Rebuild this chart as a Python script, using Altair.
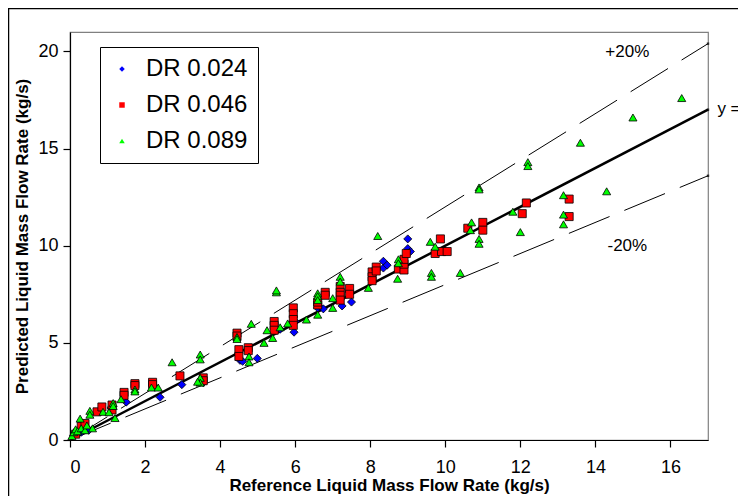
import altair as alt
import pandas as pd

# DR 0.024 (blue diamonds)
b_x = [0.1, 0.15, 0.2, 0.3, 0.5, 1.1, 1.5, 2.4, 2.98, 3.55, 3.5, 4.53, 4.6, 4.99, 5.6, 5.97, 6.0,
       6.6, 6.75, 7.25, 7.5, 8.35, 8.35, 8.45, 9.0, 9.0, 9.07]
b_y = [0.25, 0.3, 0.35, 0.4, 0.5, 1.65, 1.95, 2.2, 2.85, 2.95, 3.05, 4.1, 4.05, 4.2, 5.7, 5.55, 6.1,
       6.8, 6.75, 6.9, 7.1, 9.2, 8.85, 9.0, 10.35, 9.85, 9.7]

# DR 0.046 (red squares)
r_x = [0.15, 0.3, 0.4, 0.72, 0.85, 1.12, 1.12, 1.44, 1.44, 1.73, 1.73, 2.2, 2.2, 2.93, 3.55, 3.55,
       4.45, 4.45, 4.5, 4.5, 4.75, 4.75, 5.44, 5.44, 5.44, 5.95, 5.95, 5.95, 5.95, 6.6, 6.6, 6.8, 6.8,
       7.2, 7.2, 7.2, 7.2, 7.45, 7.45, 8.05, 8.05, 8.05, 8.16, 8.16, 8.75, 8.9, 8.9, 8.9, 8.96, 9.73,
       9.9, 10.05, 9.87, 10.6, 11.0, 11.0, 12.05, 12.16, 13.3, 13.3]
r_y = [0.3, 0.7, 0.85, 1.45, 1.7, 1.55, 1.8, 2.45, 2.3, 2.9, 2.8, 2.97, 2.85, 3.3, 3.2, 3.05,
       5.5, 5.35, 4.65, 4.3, 4.75, 4.6, 6.1, 5.9, 5.65, 6.8, 6.5, 6.2, 5.9, 6.95, 7.1, 7.6, 7.45,
       7.9, 7.6, 7.45, 7.2, 7.8, 7.5, 8.65, 8.4, 8.2, 8.9, 8.7, 8.8, 8.75, 9.05, 9.3, 9.6, 9.6,
       9.7, 9.7, 10.35, 10.9, 11.2, 10.8, 11.65, 12.2, 12.4, 11.5]

# DR 0.089 (green triangles)
g_x = [0.05, 0.1, 0.15, 0.2, 0.27, 0.3, 0.4, 0.45, 0.53, 0.53, 0.6, 0.88, 1.04, 1.15, 1.15, 1.2,
       1.36, 1.73, 1.73, 2.17, 2.35, 2.72, 3.47, 3.47, 3.47, 3.47, 3.4, 4.45, 4.45, 4.77, 4.77, 4.83,
       5.17, 5.25, 5.4, 5.5, 5.5, 5.6, 5.8, 6.3, 6.6, 6.6, 6.6, 6.6, 7.0, 7.0, 7.2, 7.2, 7.95, 8.2,
       8.73, 8.75, 8.75, 9.6, 9.63, 9.63, 9.73, 10.4, 10.67, 10.7, 10.9, 10.9, 10.9, 10.9, 11.8, 12.0,
       12.2, 12.2, 13.15, 13.15, 13.15, 13.6, 14.3, 15.0, 16.3]
g_y = [0.2, 0.4, 0.55, 0.45, 1.1, 0.6, 0.5, 0.75, 1.5, 1.3, 0.6, 1.45, 1.43, 1.9, 1.75, 1.13,
       2.1, 2.6, 2.5, 2.7, 2.7, 4.0, 4.4, 4.15, 3.2, 2.95, 3.0, 5.3, 5.2, 4.3, 4.0, 5.98,
       5.0, 5.65, 5.25, 7.6, 7.7, 5.8, 6.0, 6.2, 7.55, 7.4, 7.2, 6.45, 7.3, 6.8, 8.4, 8.15, 7.83, 10.5,
       8.3, 9.3, 9.1, 10.2, 8.6, 8.4, 9.95, 8.6, 10.8, 11.2, 13.0, 12.9, 10.35, 10.1, 11.75, 10.7,
       14.3, 14.1, 12.6, 11.6, 11.1, 15.3, 12.8, 16.6, 17.6]

series_names = ["DR 0.024", "DR 0.046", "DR 0.089"]
series_colors = ["#0000FF", "#FF0000", "#00FF00"]
series_shapes = ["diamond", "square", "triangle-up"]

# reference lines
line_x = [0, 17]
line_names = ["y = x", "+20%", "-20%"]
line_factors = [1.0, 1.2, 0.8]

# annotation labels
lab_text = ["+20%", "-20%", "y = x"]
lab_x = [14.85, 14.85, 17.25]
lab_y = [19.95, 10.0, 17.05]

rows = []
for name, xs_, ys_ in zip(series_names, [b_x, r_x, g_x], [b_y, r_y, g_y]):
    for xv, yv in zip(xs_, ys_):
        rows.append({"x": xv, "y": yv, "series": name})
df = pd.DataFrame(rows)

lrows = []
for name, f in zip(line_names, line_factors):
    for xv in line_x:
        lrows.append({"x": xv, "y": xv * f, "line": name})
dfl = pd.DataFrame(lrows)

dflab = pd.DataFrame({"x": lab_x, "y": lab_y, "t": lab_text})

FONT = "Liberation Sans"

xs = alt.Scale(domain=[0, 17], nice=False, zero=False)
ys = alt.Scale(domain=[0, 21], nice=False, zero=False)

xax = alt.Axis(values=[0, 2, 4, 6, 8, 10, 12, 14, 16], title="Reference Liquid Mass Flow Rate (kg/s)",
               grid=False, tickSize=7, labelPadding=11, titlePadding=1)
yax = alt.Axis(values=[0, 5, 10, 15, 20], title="Predicted Liquid Mass Flow Rate (kg/s)",
               grid=False, tickSize=7, labelPadding=5, titlePadding=6)

frame = alt.Chart(pd.DataFrame({"a": [0]})).mark_rect(
    fill=None, stroke="black", strokeWidth=1.5
).encode(x=alt.value(-61.5), x2=alt.value(720), y=alt.value(-23.5), y2=alt.value(520))

solid = alt.Chart(dfl[dfl["line"] == "y = x"]).mark_line(color="black", strokeWidth=2.5).encode(
    x=alt.X("x:Q", scale=xs, axis=xax), y=alt.Y("y:Q", scale=ys, axis=yax), detail="line:N"
)
dashed = alt.Chart(dfl[dfl["line"] != "y = x"]).mark_line(
    color="black", strokeWidth=1, strokeDash=[44, 16]
).encode(x=alt.X("x:Q", scale=xs), y=alt.Y("y:Q", scale=ys), detail="line:N")

ends = alt.Chart(dfl[dfl["x"] == 17]).mark_point(
    filled=True, color="black", size=6, shape="square"
).encode(x=alt.X("x:Q", scale=xs), y=alt.Y("y:Q", scale=ys))

pts = alt.Chart(df).mark_point(filled=True, size=65, stroke="black", strokeWidth=0.8, opacity=1).encode(
    x=alt.X("x:Q", scale=xs),
    y=alt.Y("y:Q", scale=ys),
    fill=alt.Fill("series:N", scale=alt.Scale(domain=series_names, range=series_colors),
                  legend=alt.Legend(title=None)),
    shape=alt.Shape("series:N", scale=alt.Scale(domain=series_names, range=series_shapes),
                    legend=alt.Legend(title=None)),
)

labs_c = alt.Chart(dflab[dflab["t"] != "y = x"]).mark_text(
    align="center", baseline="middle", fontSize=17, font=FONT, color="black"
).encode(x=alt.X("x:Q", scale=xs), y=alt.Y("y:Q", scale=ys), text="t:N")
labs_l = alt.Chart(dflab[dflab["t"] == "y = x"]).mark_text(
    align="left", baseline="middle", fontSize=17, font=FONT, color="black"
).encode(x=alt.X("x:Q", scale=xs), y=alt.Y("y:Q", scale=ys), text="t:N")

chart = alt.layer(frame, solid, dashed, ends, pts, labs_c, labs_l).properties(
    width=638, height=408,
    autosize=alt.AutoSizeParams(type="none"),
    padding={"left": 62, "top": 24, "right": 30, "bottom": 56},
    background="white",
).configure_view(stroke="#808080", strokeWidth=1.2).configure_axis(
    labelFont=FONT, titleFont=FONT, labelFontSize=18, titleFontSize=17, titleFontWeight="bold",
    labelColor="black", titleColor="black", domainColor="black", tickColor="black",
    domainWidth=1.2, tickWidth=1.2,
).configure_legend(
    orient="none", legendX=30, legendY=15, padding=10, strokeColor="black", fillColor="white",
    labelFont=FONT, labelFontSize=24, labelColor="black", symbolSize=30, symbolStrokeWidth=0.8,
    rowPadding=12, labelOffset=12, cornerRadius=0, symbolStrokeColor="black",
)

chart.save("out.html", embed_options={"renderer": "svg", "actions": False})
